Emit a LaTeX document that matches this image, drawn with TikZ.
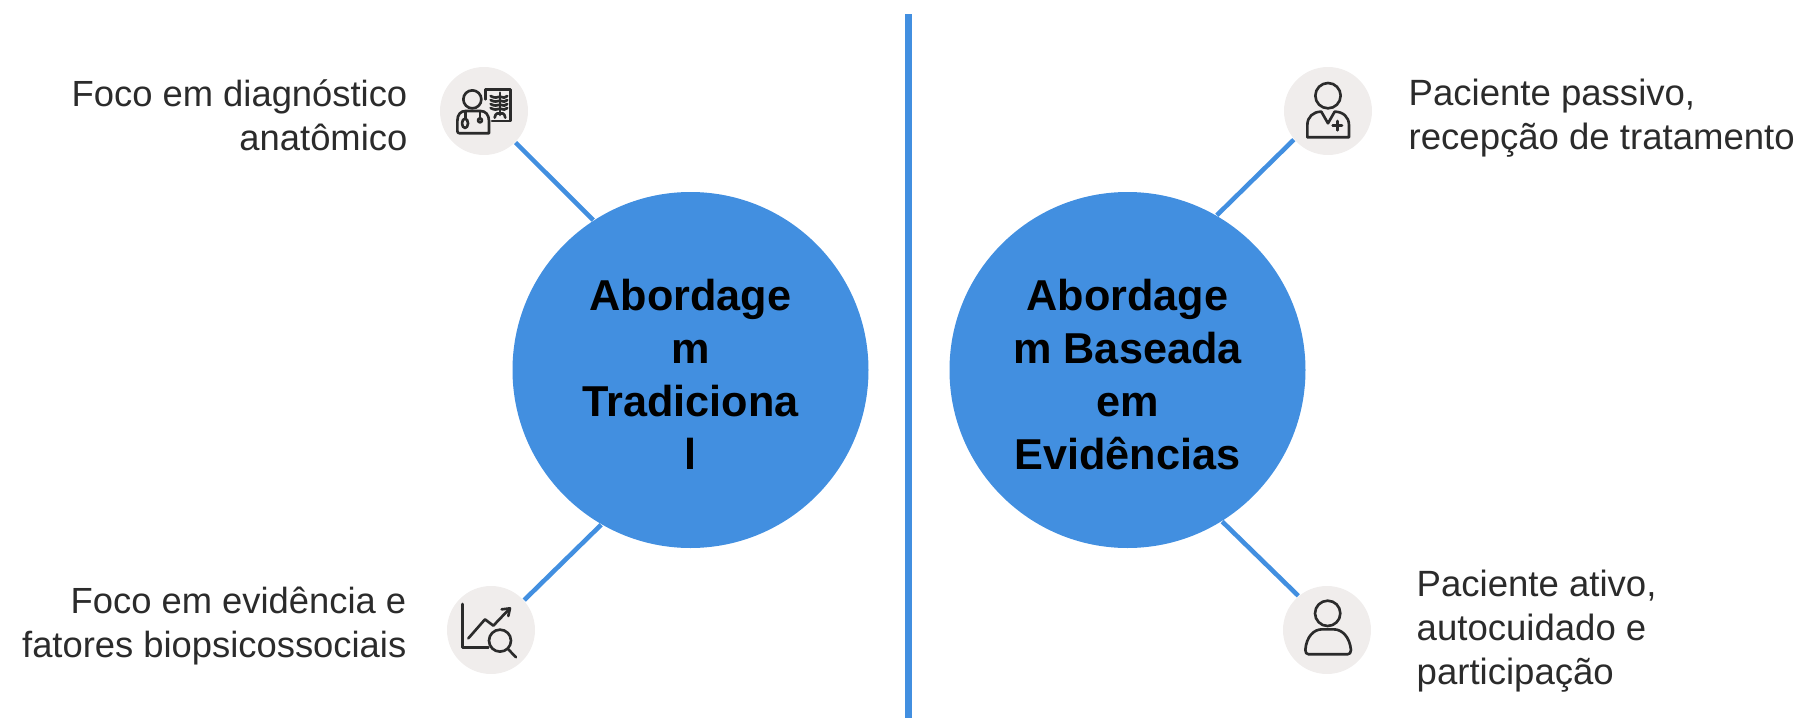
\documentclass[tikz,border=0pt]{standalone}
\usepackage{fontspec}
\setmainfont{Liberation Sans}
\definecolor{mainblue}{HTML}{428FE0}
\definecolor{iconbg}{HTML}{F0EDEC}
\definecolor{inkdark}{HTML}{2B2B2B}
\tikzset{
	bigdisc/.style={circle, fill=mainblue, minimum size=3.56cm, inner sep=0, align=center, text height=56.7pt, font=\fontsize{12.3}{15.1}\selectfont\bfseries},
	smalldisc/.style={circle, fill=iconbg, minimum size=0.88cm, inner sep=0},
	spoke/.style={mainblue, line width=1.3pt},
	lefttext/.style={anchor=east, align=right, inner sep=0, text=inkdark, font=\fontsize{10.35}{12.5}\selectfont},
	righttext/.style={anchor=west, align=left, inner sep=0, text=inkdark, font=\fontsize{10.4}{12.5}\selectfont},
	icon/.style={draw=inkdark, line width=0.75pt, line cap=round, line join=round, x=0.0333cm/10, y=-0.0333cm/10}
}

\begin{document}
\begin{tikzpicture}
	\useasboundingbox (0, 0) rectangle (18.09, 7.18);

	% Trennlinie
	\coordinate (divtop) at (9.085, 7.04);
	\coordinate (divbot) at (9.085, 0);
	\draw[mainblue, line width=1.8pt] (divtop) -- (divbot);

	% grosse Kreise
	\node[bigdisc] (trad) at (6.905, 3.48) {Abordage\\m\\Tradiciona\\l};
	\node[bigdisc] (evid) at (11.275, 3.48) {Abordage\\m Baseada\\em\\Evidências};

	% kleine Kreise
	\node[smalldisc] (diag) at (4.84, 6.07) {};
	\node[smalldisc] (chart) at (4.91, 0.88) {};
	\node[smalldisc] (doctor) at (13.28, 6.07) {};
	\node[smalldisc] (person) at (13.27, 0.88) {};

	% Verbindungen
	\draw[spoke] (diag.-45) -- (trad.123);
	\draw[spoke] (chart.42) -- (trad.240);
	\draw[spoke] (doctor.220) -- (evid.60);
	\draw[spoke] (person.130) -- (evid.-58);

	% Texte
	\node[lefttext] (diagtext) at (4.08, 6.03) {Foco em diagnóstico\\anatômico};
	\node[lefttext] (charttext) at (4.07, 0.92) {Foco em evidência e\\fatores biopsicossociais};
	\node[righttext] (doctortext) at (14.08, 6.00) {Paciente passivo,\\recepção de tratamento};
	\node[righttext] (persontext) at (14.16, 0.87) {Paciente ativo,\\autocuidado e\\participação};

	% Icon Arzt + Roentgenbild
	\begin{scope}[shift={(diag)}]
		\draw[icon] (-35, -35) circle (27);
		\draw[icon] (-80, 60) -- (-80, 30) .. controls (-80, 10) and (-70, 0) .. (-55, 0) -- (-10, 0) .. controls (5, 0) and (15, 12) .. (15, 30) -- (15, 67) -- (-73, 67) .. controls (-78, 67) and (-80, 65) .. (-80, 60) -- cycle;
		\draw[icon] (-55, 2) -- (-55, 22);
		\draw[icon] (-57, 37) ellipse (9 and 14);
		\draw[icon] (-12, 2) -- (-12, 20);
		\draw[icon] (-12, 28) circle (6);
		\draw[icon] (5, -35) -- (5, -65) -- (80, -65) -- (80, 30) -- (24, 30);
		\draw[icon] (48, -55) -- (48, 12);
		\foreach \ry in {-45, -33, -21, -9}
			\draw[icon] (20, \ry) .. controls (30, \ry+6) and (40, \ry+6) .. (48, \ry+2) .. controls (56, \ry+6) and (66, \ry+6) .. (70, \ry);
		\draw[icon] (32, 20) .. controls (34, 6) and (44, 4) .. (48, 8) .. controls (52, 4) and (62, 6) .. (64, 20);
	\end{scope}

	% Icon Diagramm + Lupe
	\begin{scope}[shift={(chart)}]
		\draw[icon] (-86, -78) -- (-86, 52) -- (-8, 52);
		\draw[icon] (-68, 25) -- (-18, -32) -- (7, -13) -- (52, -60);
		\draw[icon] (32, -62) -- (57, -65) -- (52, -42);
		\draw[icon] (27, 32) circle (33);
		\draw[icon] (52, 58) -- (75, 82);
	\end{scope}

	% Icon Arzt
	\begin{scope}[shift={(doctor)}]
		\draw[icon] (0, -46) circle (38);
		\draw[icon] (-62, 79) -- (-62, 42) .. controls (-62, 18) and (-45, 2) .. (-20, 2) -- (0, 37) -- (20, 2) .. controls (45, 2) and (63, 18) .. (63, 42) -- (63, 79) -- cycle;
		\draw[icon] (28, 30) -- (28, 58);
		\draw[icon] (14, 44) -- (42, 44);
	\end{scope}

	% Icon Person
	\begin{scope}[shift={(person)}]
		\draw[icon] (2, -50) circle (38);
		\draw[icon] (-55, 73) .. controls (-62, 73) and (-65, 68) .. (-65, 60) .. controls (-62, 20) and (-40, -2) .. (-15, -2) -- (20, -2) .. controls (45, -2) and (68, 20) .. (72, 60) .. controls (72, 68) and (68, 73) .. (62, 73) -- cycle;
	\end{scope}
\end{tikzpicture}
\end{document}
